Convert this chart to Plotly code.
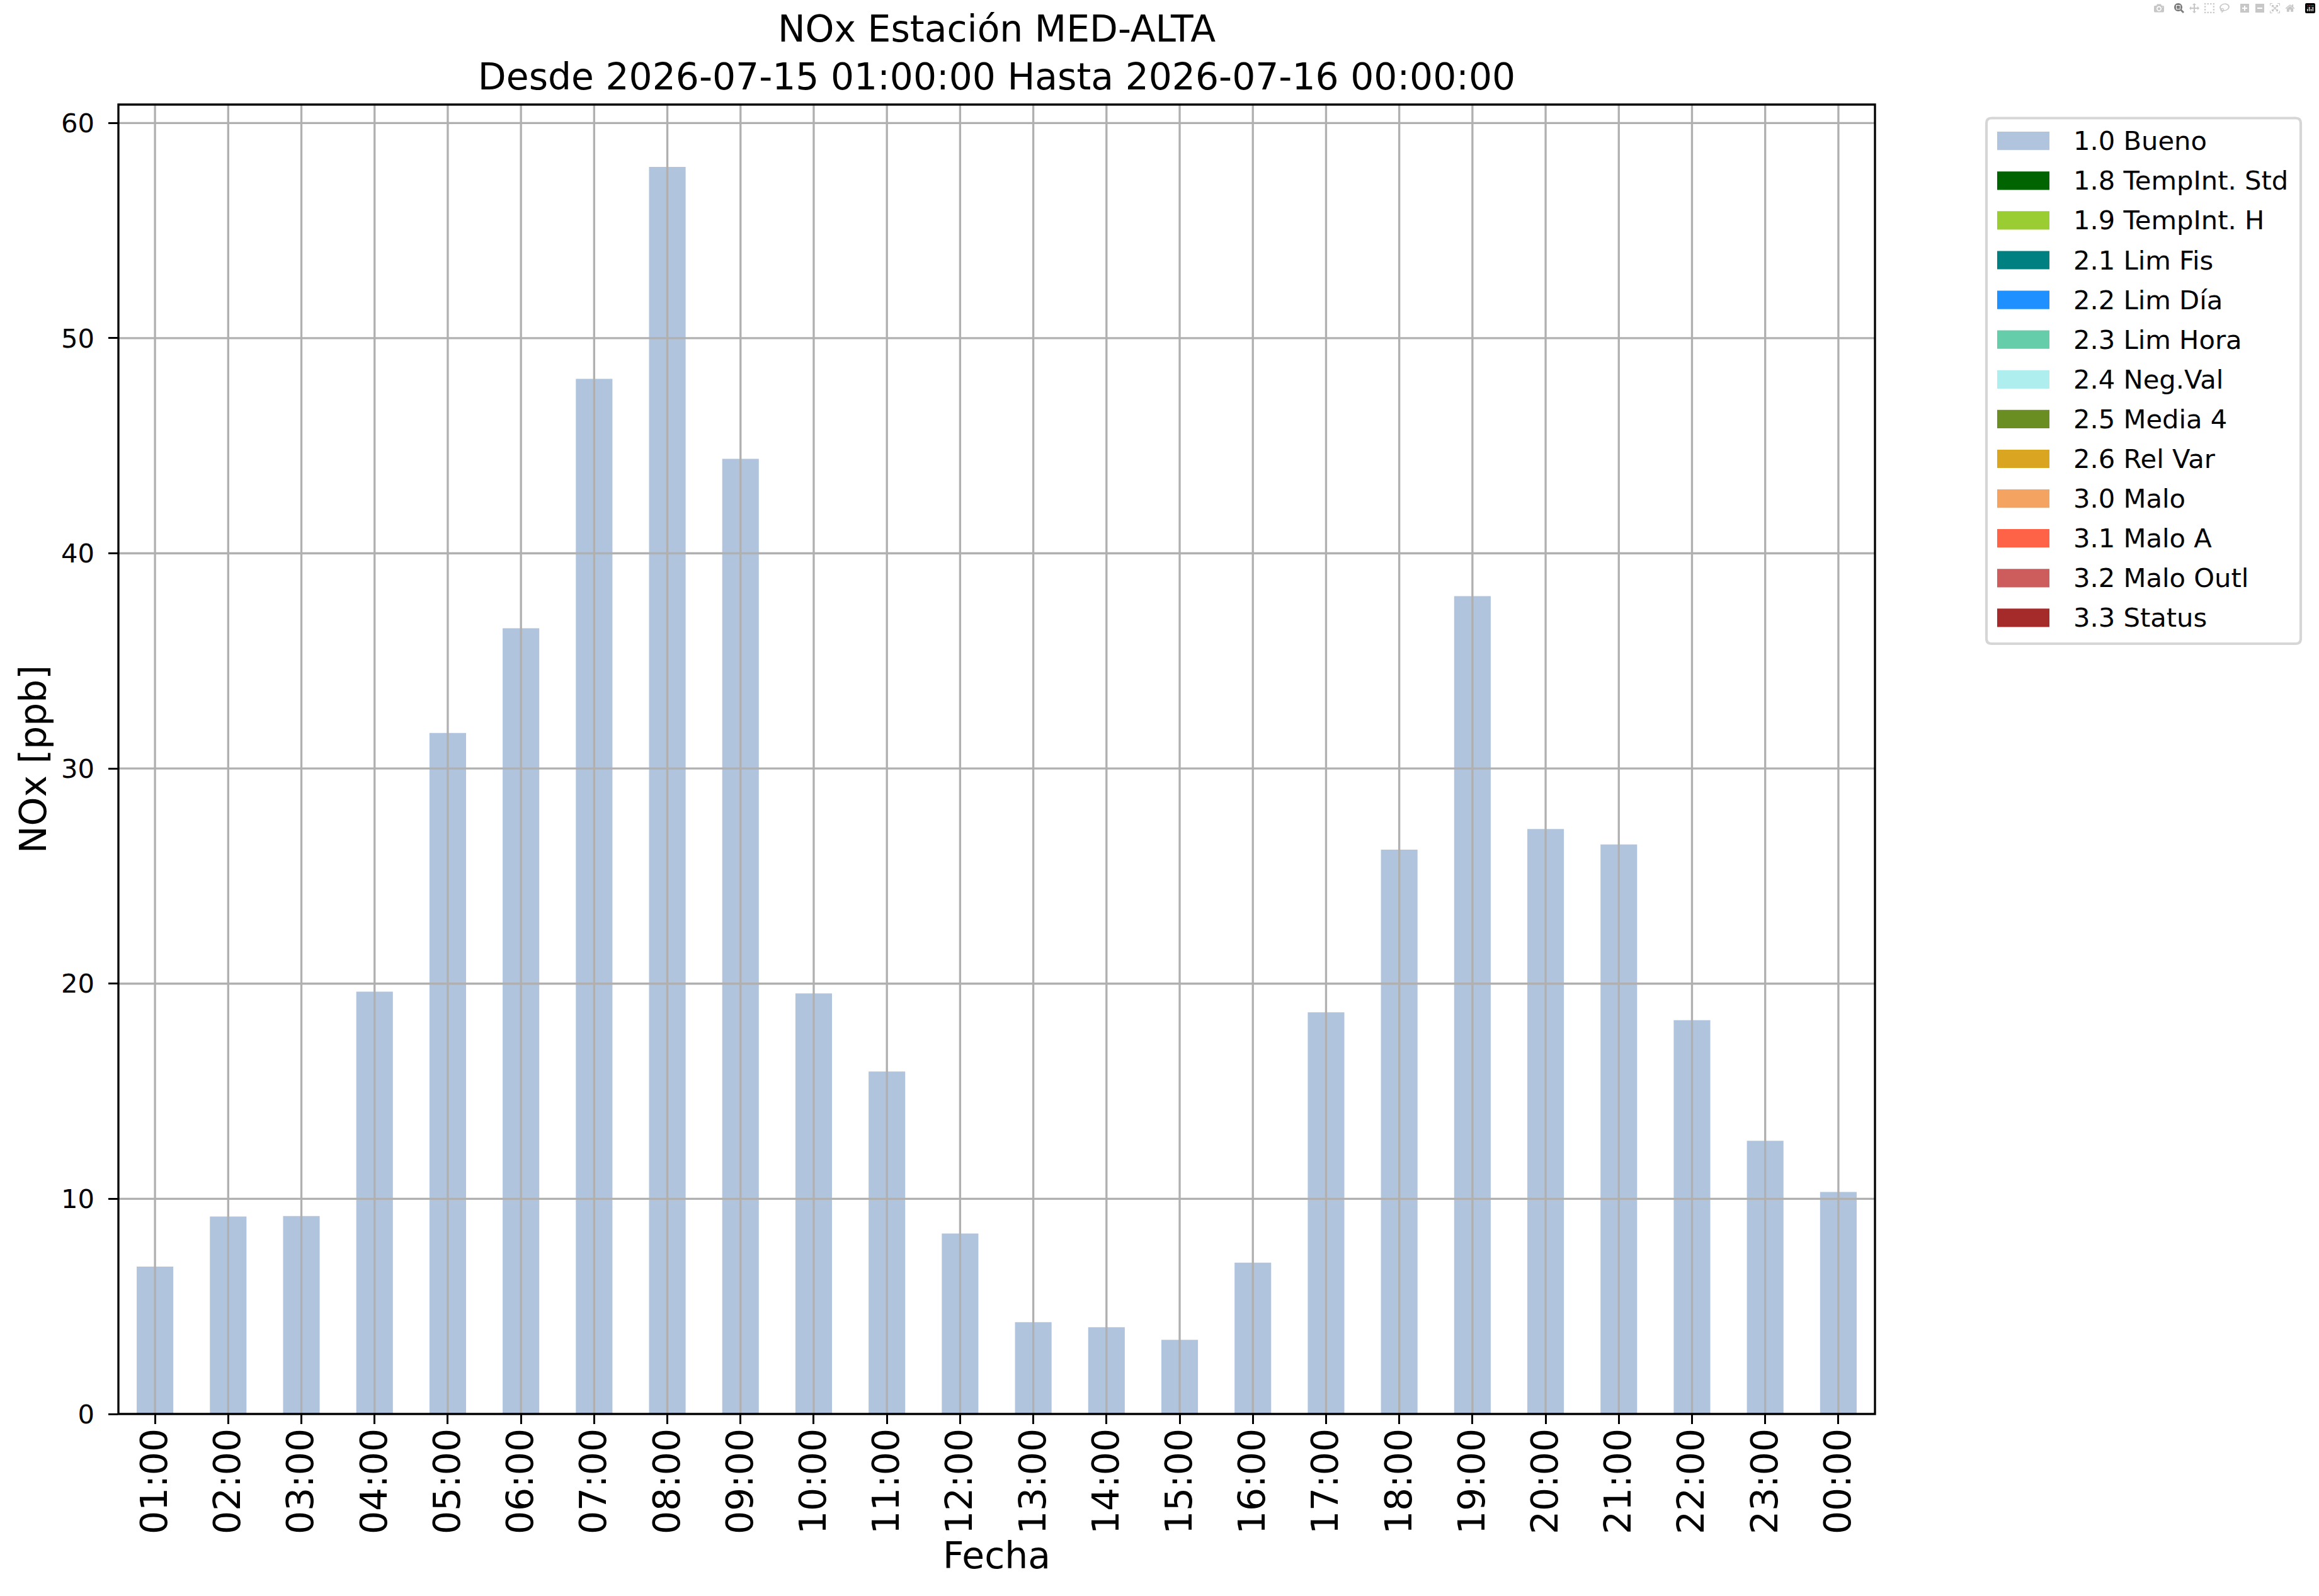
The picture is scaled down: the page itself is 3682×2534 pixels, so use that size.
import plotly.graph_objects as go

# hourly NOx values (ppb), all flagged "1.0 Bueno"
hours = ["01:00", "02:00", "03:00", "04:00", "05:00", "06:00", "07:00", "08:00",
         "09:00", "10:00", "11:00", "12:00", "13:00", "14:00", "15:00", "16:00",
         "17:00", "18:00", "19:00", "20:00", "21:00", "22:00", "23:00", "00:00"]
nox = [6.85, 9.18, 9.2, 19.63, 31.65, 36.52, 48.11, 57.96,
       44.39, 19.55, 15.92, 8.39, 4.27, 4.03, 3.45, 7.03,
       18.67, 26.23, 38.01, 27.19, 26.47, 18.3, 12.7, 10.32]

flag_labels = ["1.0 Bueno", "1.8 TempInt. Std", "1.9 TempInt. H", "2.1 Lim Fis",
               "2.2 Lim Día", "2.3 Lim Hora", "2.4 Neg.Val", "2.5 Media 4",
               "2.6 Rel Var", "3.0 Malo", "3.1 Malo A", "3.2 Malo Outl", "3.3 Status"]
flag_colors = ["#B0C4DE", "#006400", "#9ACD32", "#008080", "#1E90FF", "#66CDAA",
               "#AFEEEE", "#6B8E23", "#DAA520", "#F4A460", "#FF6347", "#CD5C5C",
               "#A52A2A"]

yticks = [0, 10, 20, 30, 40, 50, 60]

title = "NOx Estación MED-ALTA<br>Desde 2026-07-15 01:00:00 Hasta 2026-07-16 00:00:00"

W, H = 3682, 2534
ML, MR, MT, MB = 188, 705, 166, 289
PT = 300 / 72.0  # matplotlib points -> px at 300 dpi
FONT = "DejaVu Sans"
GRID = "#b0b0b0"


def px_x(p):
    return (p - ML) / (W - ML - MR)


def px_y(p):
    return (H - MB - p) / (H - MT - MB)


fig = go.Figure()
fig.add_trace(go.Bar(x=hours, y=nox, name=flag_labels[0], marker_color=flag_colors[0],
                     marker_line_width=0, width=0.5, showlegend=False))

# grid drawn above the bars, like matplotlib's
shapes = []
for h in hours:
    shapes.append(dict(type="line", xref="x", yref="paper", x0=h, x1=h, y0=0, y1=1,
                       line=dict(color=GRID, width=0.8 * PT), layer="above"))
for v in yticks[1:]:
    shapes.append(dict(type="line", xref="paper", yref="y", x0=0, x1=1, y0=v, y1=v,
                       line=dict(color=GRID, width=0.8 * PT), layer="above"))
shapes.append(dict(type="rect", xref="paper", yref="paper", x0=0, x1=1, y0=0, y1=1,
                   line=dict(color="black", width=0.8 * PT), layer="above"))

# matplotlib-style legend box (upper left, outside the axes)
lx0, lx1, ly0, ly1, rad = 3154, 3653, 187.5, 1022, 8
frame = ("M{a},{t} L{b},{t} Q{r},{t} {r},{tt} L{r},{bb} Q{r},{bo} {b},{bo} "
         "L{a},{bo} Q{l},{bo} {l},{bb} L{l},{tt} Q{l},{t} {a},{t} Z").format(
    l=px_x(lx0), r=px_x(lx1), a=px_x(lx0 + rad), b=px_x(lx1 - rad),
    t=px_y(ly0), bo=px_y(ly1), tt=px_y(ly0 + rad), bb=px_y(ly1 - rad))
shapes.append(dict(type="path", xref="paper", yref="paper", path=frame,
                   fillcolor="white", line=dict(color="#d6d6d6", width=1.0 * PT),
                   layer="above"))

annotations = []
row0, row_step = 223.7, 63.1
for i, (lab, col) in enumerate(zip(flag_labels, flag_colors)):
    yc = row0 + i * row_step
    shapes.append(dict(type="rect", xref="paper", yref="paper",
                       x0=px_x(3171), x1=px_x(3254),
                       y0=px_y(yc - 14.6), y1=px_y(yc + 14.6),
                       fillcolor=col, line=dict(width=0), layer="above"))
    annotations.append(dict(text=lab, xref="paper", yref="paper", x=px_x(3290),
                            y=px_y(yc), xanchor="left", yanchor="middle",
                            showarrow=False, font=dict(size=10 * PT, family=FONT)))

fig.update_layout(
    width=W, height=H,
    margin=dict(l=ML, r=MR, t=MT, b=MB, autoexpand=False),
    plot_bgcolor="white", paper_bgcolor="white",
    font=dict(family=FONT, color="black"),
    barmode="stack", showlegend=False,
    shapes=shapes, annotations=annotations,
    title=dict(text=title, x=0.5, xref="paper", xanchor="center",
               y=1 - 66 / H, yref="container", yanchor="middle",
               font=dict(size=14 * PT, family=FONT, color="black")),
)

fig.update_xaxes(
    type="category", range=[-0.5, 23.5], showgrid=False, showline=False,
    ticks="outside", ticklen=3.5 * PT, tickwidth=0.8 * PT, tickcolor="black",
    tickangle=-90, tickfont=dict(size=14 * PT), ticklabelstandoff=-16,
    title=dict(text="Fecha", font=dict(size=14 * PT), standoff=6),
    automargin=False,
)
fig.update_yaxes(
    range=[0, max(nox) * 1.05], tickvals=yticks, showgrid=False, zeroline=False,
    showline=False, ticks="outside", ticklen=3.5 * PT, tickwidth=0.8 * PT,
    tickcolor="black", tickfont=dict(size=10 * PT), ticklabelstandoff=14,
    title=dict(text="NOx [ppb]", font=dict(size=14 * PT), standoff=4),
    automargin=False,
)

fig.write_html("out.html", post_script="document.body.style.margin='0';")
